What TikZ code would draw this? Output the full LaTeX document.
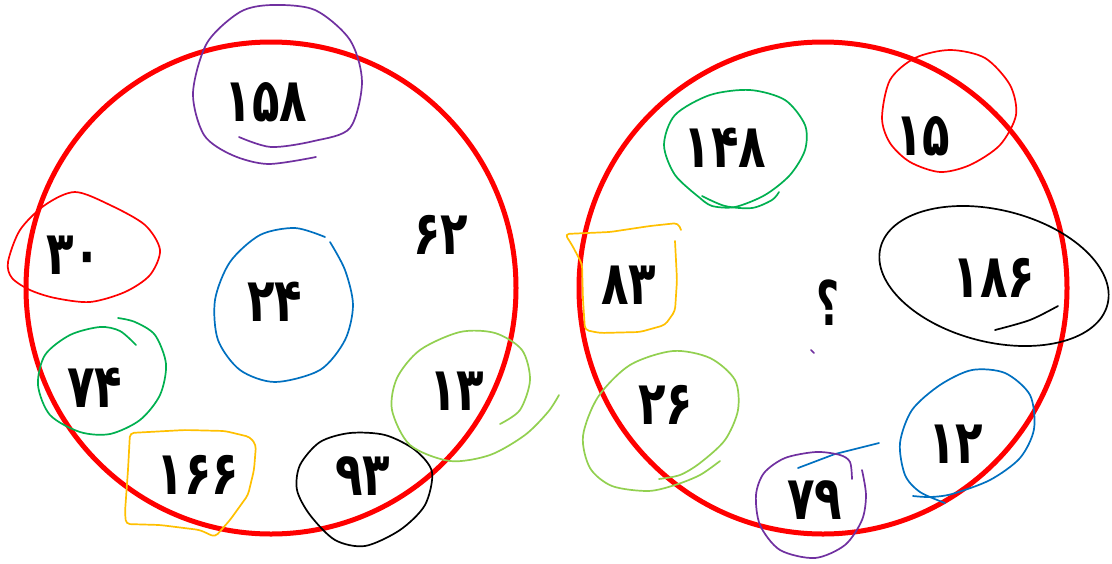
\documentclass[tikz,border=0pt]{standalone}
\usepackage{fontspec}
\usepackage{graphicx}
\newfontfamily\fa[Script=Arabic]{DejaVu Sans}
\definecolor{cRed}{RGB}{255,0,0}
\definecolor{cPurple}{RGB}{112,48,160}
\definecolor{cGreen}{RGB}{0,176,80}
\definecolor{cLime}{RGB}{146,208,80}
\definecolor{cYellow}{RGB}{255,192,0}
\definecolor{cBlue}{RGB}{0,112,192}
\newcommand{\tallnum}[1]{\scalebox{0.98}[1.32]{#1}}
\begin{document}
\begin{tikzpicture}[x=1pt,y=-1pt,
  num/.style={font=\fa\bfseries\fontsize{46}{54}\selectfont, inner sep=0pt},
  bigring/.style={draw=cRed,line width=5pt},
  hand/.style={line width=1.7pt,line cap=round,line join=round}]
\useasboundingbox (0,0) rectangle (1112,563);
\fill[white] (0,0) rectangle (1112,563);
% big circles
\draw[bigring] (271,288) ellipse[x radius=245,y radius=246];
\draw[bigring] (823,288) ellipse[x radius=244,y radius=246];
% ---- left loops
\draw[hand,cPurple] plot[smooth] coordinates {(316,157) (268,164) (232,155) (204,135) (193,93) (207,43) (240,12) (272,5) (315,10) (350,40) (362,82) (350,128) (314,141) (271,147) (239,137)};
\draw[hand,cRed] plot[smooth cycle] coordinates {(8,262) (20,230) (45,205) (75,192) (110,205) (145,225) (160,250) (150,275) (125,292) (90,302) (55,298) (30,290) (12,278)};
\draw[hand,cBlue] plot[smooth] coordinates {(330,242) (345,270) (353,305) (345,340) (320,370) (275,382) (240,370) (218,340) (215,300) (230,262) (260,235) (295,228) (325,237)};
\draw[hand,cGreen] plot[smooth] coordinates {(136,345) (120,331) (100,327) (70,335) (45,355) (38,385) (50,415) (80,432) (110,434) (140,420) (160,395) (166,364) (155,335) (135,322) (118,318)};
\draw[hand,cYellow,rounded corners=4pt] (130,433) -- (185,430) -- (225,431) -- (250,437) -- (256,445) -- (254,470) -- (248,495) -- (230,520) -- (215,537) -- (200,530) -- (160,525) -- (126,524) -- (125,512) -- (128,470) -- cycle;
\draw[hand,black] plot[smooth cycle] coordinates {(300,465) (320,442) (350,433) (385,435) (415,450) (432,472) (425,505) (400,530) (365,546) (335,540) (310,515) (297,490)};
\draw[hand,cLime] plot[smooth] coordinates {(500,424) (520,410) (530,380) (522,350) (495,333) (460,332) (420,350) (397,378) (392,410) (410,445) (450,461) (490,455) (525,435) (548,412) (559,395)};
% ---- right loops
\draw[hand,cGreen] plot[smooth] coordinates {(700,198) (675,175) (664,145) (675,115) (710,95) (750,90) (785,100) (805,125) (805,150) (790,175) (765,195) (735,207) (712,206) (700,198)};
\draw[hand,cGreen] plot[smooth] coordinates {(702,196) (725,206) (752,208) (772,200) (779,192)};
\draw[hand,cRed] plot[smooth cycle] coordinates {(882,118) (890,80) (915,58) (950,50) (985,58) (1010,85) (1016,115) (1000,145) (970,165) (940,172) (910,162) (890,143)};
\draw[hand,cYellow,rounded corners=4pt] (675,241) -- (677,280) -- (675,311) -- (665,325) -- (640,332) -- (600,333) -- (585,330) -- (583,300) -- (582,264) -- (572,245) -- (565,234) -- (610,232) -- (650,226) -- (678,223) -- (681,230);
\draw[hand,black,rotate around={-14:(994,276)}] (994,276) ellipse[x radius=117,y radius=66];
\draw[hand,black] plot[smooth] coordinates {(995,330) (1030,320) (1058,306)};
\draw[hand,cLime] plot[smooth] coordinates {(720,461) (700,475) (675,485) (648,491) (612,486) (590,468) (583,436) (598,397) (630,365) (673,351) (710,358) (735,380) (738,410) (725,440) (700,463) (680,475) (659,479)};
\draw[hand,cBlue] plot[smooth] coordinates {(913,496) (930,497) (952,494) (990,480) (1020,458) (1034,429) (1030,395) (1005,373) (972,370) (940,385) (912,410) (900,443) (905,475) (920,492) (945,503)};
\draw[hand,cBlue] (798,468) -- (835,454) -- (879,443);
\draw[hand,cPurple] plot[smooth] coordinates {(852,479) (850,462) (840,455) (816,452) (785,458) (764,473) (756,495) (760,525) (780,550) (815,558) (845,545) (862,520) (866,495) (862,470)};
\draw[hand,cPurple] (811,350) -- (814,353);
% ---- numbers
\node[num] (n158) at (266,102) {\tallnum{۱۵۸}};
\node[num] (n62)  at (441,235) {\tallnum{۶۲}};
\node[num] (n30)  at (74,255)  {\tallnum{۳۰}};
\node[num] (n24)  at (275,302) {\tallnum{۲۴}};
\node[num] (n74)  at (95,388)  {\tallnum{۷۴}};
\node[num] (n13)  at (457,391) {\tallnum{۱۳}};
\node[num] (n166) at (198,475) {\tallnum{۱۶۶}};
\node[num] (n93)  at (363,476) {\tallnum{۹۳}};
\node[num] (n148) at (725,148) {\tallnum{۱۴۸}};
\node[num] (n15)  at (923,136) {\tallnum{۱۵}};
\node[num] (n83)  at (629,285) {\tallnum{۸۳}};
\node[num,font=\fa\bfseries\fontsize{44}{50}\selectfont] (nq) at (828,303) {\scalebox{0.9}[1.4]{؟}};
\node[num] (n186) at (994,278) {\tallnum{۱۸۶}};
\node[num] (n26)  at (666,405) {\tallnum{۲۶}};
\node[num] (n12)  at (956,444) {\tallnum{۱۲}};
\node[num] (n79)  at (815,500) {\tallnum{۷۹}};
\end{tikzpicture}
\end{document}
